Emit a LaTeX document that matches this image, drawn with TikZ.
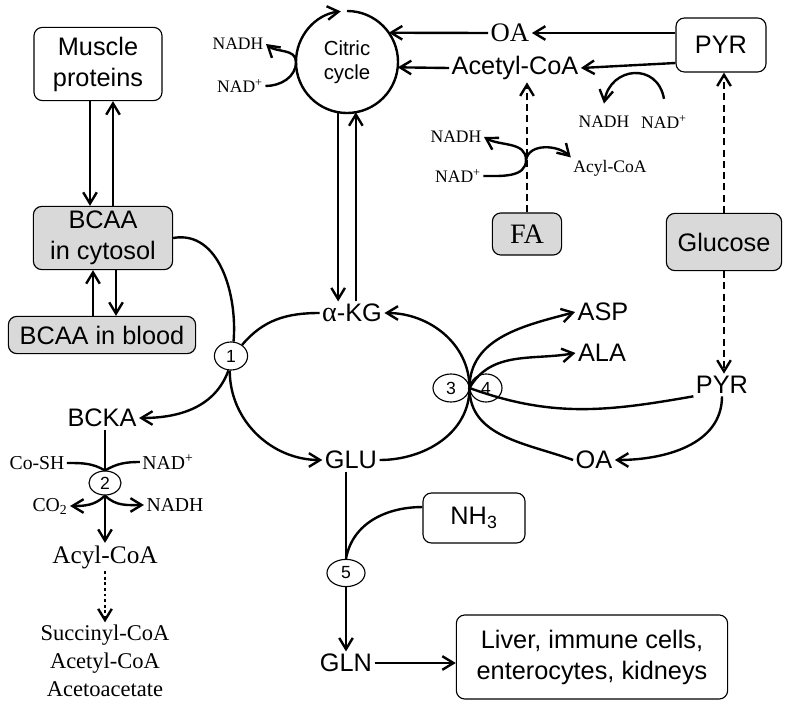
\documentclass[tikz,border=0pt]{standalone}
\usepackage{fontspec}
\setmainfont{Liberation Serif}
\setsansfont{Liberation Sans}
\usetikzlibrary{arrows.meta,shapes.geometric}

\tikzset{
  box/.style={draw,line width=.8pt,rounded corners=6pt,align=center,inner sep=2pt,font=\sffamily\fontsize{18}{22}\selectfont},
  gbox/.style={box,fill=gray!30},
  lbl/.style={font=\sffamily\fontsize{18}{22}\selectfont,inner sep=1pt},
  rlbl/.style={font=\fontsize{19}{22}\selectfont,inner sep=1pt},
  sm/.style={font=\fontsize{12.5}{14}\selectfont,inner sep=1pt},
  smb/.style={font=\fontsize{14}{16}\selectfont,inner sep=1pt},
  enz/.style={draw,ellipse,line width=.8pt,fill=white,inner sep=0pt,font=\sffamily\fontsize{12.5}{14}\selectfont},
  dsh/.style={dash pattern=on 5pt off 3pt},
  dts/.style={dash pattern=on 2pt off 2pt}
}

\begin{document}
\begin{tikzpicture}[x=0.025cm,y=-0.025cm,line width=1.7pt,>={Straight Barb[length=2.8mm,width=3.4mm]}]
   \useasboundingbox (0,0) rectangle (791,709);
   \node[box,minimum width=3.2cm,minimum height=1.83cm] (mp) at (98,64) {Muscle\\proteins};
   \node[gbox,minimum width=3.48cm,minimum height=1.58cm] (cyt) at (103,238) {BCAA\\in cytosol};
   \node[gbox,minimum width=4.68cm,minimum height=.93cm] (blood) at (102,335) {BCAA in blood};
   \node[box,minimum width=2.25cm,minimum height=1.35cm] (pyr1) at (721,45) {PYR};
   \node[gbox,font=\fontsize{20}{22}\selectfont,minimum width=1.73cm,minimum height=1.05cm] (fa) at (527,234) {FA};
   \node[gbox,minimum width=2.88cm,minimum height=1.43cm] (glc) at (724,242) {Glucose};
   \node[box,minimum width=2.55cm,minimum height=1.25cm] (nh3) at (474,518) {NH\textsubscript{3}};
   \node[box,minimum width=6.78cm,minimum height=2.1cm] (liv) at (592,657) {Liver, immune cells,\\enterocytes, kidneys};
   \node[circle,minimum size=2.55cm,inner sep=0pt,outer sep=0pt,align=center,font=\sffamily\fontsize{14.5}{17}\selectfont] (tca) at (347,62) {Citric\\cycle};

   \node[rlbl] (oa1) at (510,33) {OA};
   \node[lbl] (acoa) at (515,68) {Acetyl-CoA};
   \node[sm] (nadh1) at (238,44) {NADH};
   \node[sm] (nad1) at (240,86) {NAD\textsuperscript{+}};
   \node[sm] (nadh2) at (604,122) {NADH};
   \node[sm] (nad2) at (664,122) {NAD\textsuperscript{+}};
   \node[sm] (nadh3) at (456,137) {NADH};
   \node[sm] (nad3) at (458,176) {NAD\textsuperscript{+}};
   \node[sm] (acyl1) at (610,168) {Acyl-CoA};
   \node[lbl] (akg) at (352,313) {{\rmfamily\fontsize{20}{22}\selectfont α}-KG};
   \node[lbl] (glu) at (351,460) {GLU};
   \node[lbl] (asp) at (603,312) {ASP};
   \node[lbl] (ala) at (602,353) {ALA};
   \node[lbl] (pyr2) at (722,385) {PYR};
   \node[lbl] (oa2) at (594,460) {OA};
   \node[lbl] (bcka) at (102,418) {BCKA};
   \node[rlbl,font=\fontsize{18}{22}\selectfont] (acyl2) at (105,557) {Acyl-CoA};
   \node[align=center,font=\fontsize{16}{20}\selectfont,inner sep=1pt] (prod) at (105,661) {Succinyl-CoA\\Acetyl-CoA\\Acetoacetate};
   \node[smb] (cosh) at (37,463) {Co-SH};
   \node[smb] (nad4) at (168,462) {NAD\textsuperscript{+}};
   \node[smb] (co2) at (50,506) {CO\textsubscript{2}};
   \node[smb] (nadh4) at (175,505) {NADH};
   \node[lbl] (gln) at (346,663) {GLN};

   \node[enz,minimum width=.83cm,minimum height=.7cm] (e1) at (231,356) {1};
   \node[enz,minimum width=.8cm,minimum height=.6cm] (e2) at (105,483) {2};
   \node[enz,minimum width=.9cm,minimum height=.7cm] (e3) at (451,388) {3};
   \node[enz,minimum width=.8cm,minimum height=.7cm] (e4) at (486,388) {4};
   \node[enz,minimum width=.95cm,minimum height=.68cm] (e5) at (346,573) {5};
   \coordinate (j) at (469.5,388);
   \coordinate (fx) at (526,160);

   % citric cycle
   \draw[->] (tca.90) arc[start angle=90,end angle=-263,radius=1.275cm];
   \draw[->] (nad1.east) to[out=0,in=-90] (tca.west) to[out=90,in=-40] (nadh1.east);
   \draw[->] (oa1.west) -- (tca.35);
   \draw[->] (acoa.west) -- (tca.-6);
   \draw[->] (pyr1.west |- oa1) -- (oa1.east);
   \draw[->] ([yshift=-4.5mm]pyr1.west) -- (acoa.east);
   \draw[->] ([yshift=.35cm]nad2.north) to[out=100,in=80,looseness=1.6] ([yshift=.25cm]nadh2.north);
   \draw[->] (tca.-100) -- (tca.-100 |- akg.north);
   \draw[->] (tca.-80 |- akg.north) -- (tca.-80);

   \draw[dsh,->] (fa.north) -- (fa.north |- acoa.south);
   \draw[->] (nad3.east) to[out=0,in=-90] (fx) to[out=90,in=-30] (nadh3.east);
   \draw[->] (fx) to[out=80,in=135] (acyl1.north west);
   \draw[dsh,->] (glc.north) -- (glc.north |- pyr1.south);
   \draw[dsh,->] (glc.south) -- (glc.south |- pyr2.north);

   % BCAA
   \draw[->] ([xshift=-2mm]mp.south) -- ([xshift=-2mm]mp.south |- cyt.north);
   \draw[->] ([xshift=3.75mm]mp.south |- cyt.north) -- ([xshift=3.75mm]mp.south);
   \draw[->] ([xshift=-2.5mm]cyt.south |- blood.north) -- ([xshift=-2.5mm]cyt.south);
   \draw[->] ([xshift=3.25mm]cyt.south) -- ([xshift=3.25mm]cyt.south |- blood.north);
   \draw (cyt.east) to[out=10,in=85] (e1.80);
   \draw[->] (e1.-100) to[out=-110,in=0] (bcka.east);
   \draw (akg.west) to[out=180,in=50] (e1.45);
   \draw[->] (e1.-95) to[out=-90,in=180] (glu.west);

   \draw (bcka.south -| e2.north) -- (e2.north);
   \draw[->] (e2.south) -- (acyl2.north);
   \draw (cosh.east) to[out=0,in=150] (e2.north);
   \draw (nad4.west) to[out=180,in=30] (e2.north);
   \draw[->] (e2.south) to[out=-135,in=0] (co2.east);
   \draw[->] (e2.south) to[out=-45,in=180] (nadh4.west);
   \draw[dts,->] (acyl2.south) -- (prod.north);

   % transaminations
   \draw[->] (glu.east) to[out=0,in=-90] (j) to[out=90,in=0] (akg.east);
   \draw[->] (oa2.west) to[out=160,in=-90] (j) to[out=90,in=195] (asp.west);
   \draw[->] (pyr2.south west) to[out=190,in=-20] (j) to[out=60,in=190] (ala.west);
   \draw[->] (pyr2.south) to[out=-90,in=0] (oa2.east);

   \draw (glu.south -| e5.north) -- (e5.north);
   \draw[->] (e5.south) -- (gln.north);
   \draw (nh3.168) to[out=180,in=80] (e5.north);
   \draw[->] (gln.east) -- (gln.east -| liv.west);
\end{tikzpicture}
\end{document}
